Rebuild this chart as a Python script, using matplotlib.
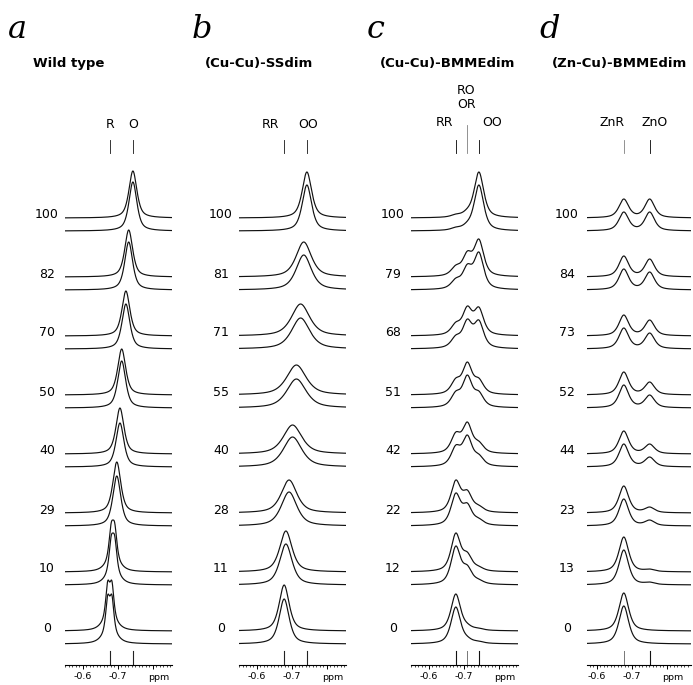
import numpy as np
import matplotlib
matplotlib.use("Agg")
import matplotlib.pyplot as plt
from matplotlib.ticker import MultipleLocator, FixedLocator, FixedFormatter
from matplotlib.transforms import ScaledTranslation

# ---------------- data ----------------
PPM_R, PPM_M, PPM_O = -0.677, -0.710, -0.743

A_TITLE = "Wild type"
A_LABELS = ["100", "82", "70", "50", "40", "29", "10", "0"]
A_CENTER = [-0.743, -0.731, -0.723, -0.711, -0.706, -0.697, -0.686, -0.677]
A_HWHM = [0.0135, 0.0135, 0.0135, 0.0135, 0.0135, 0.0135, 0.0075, 0.0068]
A_SPLIT = [0, 0, 0, 0, 0, 0, 0.0100, 0.0120]
A_BROAD = [0, 0, 0, 0, 0, 0, 0.20, 0.20]
A_H_EXP = [47, 47, 45, 46, 46, 51, 52, 51]
A_H_SIM = [49, 48, 45, 47, 44, 50, 52, 50]

B_TITLE = "(Cu-Cu)-SSdim"
B_LABELS = ["100", "81", "71", "55", "40", "28", "11", "0"]
B_CENTER = [-0.743, -0.734, -0.725, -0.713, -0.702, -0.692, -0.683, -0.678]
B_HWHM = [0.0160, 0.0260, 0.0310, 0.0330, 0.0315, 0.0265, 0.0210, 0.0170]
B_H_EXP = [46, 35, 32, 30, 29, 33, 41, 46]
B_H_SIM = [46, 35, 31, 29, 30, 34, 41, 45]

C_TITLE = "(Cu-Cu)-BMMEdim"
C_LABELS = ["100", "79", "68", "51", "42", "22", "12", "0"]
# observed heights (px) of the trace at the RR, RO/OR and OO positions
C_H_RR = [4, 12, 14, 17, 22, 33, 39, 37]
C_H_RO = [10, 26, 30, 33, 32, 23, 20, 8]
C_H_OO = [46, 38, 29, 17, 13, 8, 6, 3]
C_HWHM = 0.0162

D_TITLE = "(Zn-Cu)-BMMEdim"
D_LABELS = ["100", "84", "73", "52", "44", "23", "13", "0"]
D_H_ZNR = [19, 21, 21, 23, 23, 27, 35, 38]
D_H_ZNO = [19, 18, 16, 13, 10, 6, 3, 1]
D_HWHM = 0.0165
PPM_ZNR, PPM_ZNO = -0.677, -0.751

# ---------------- layout ----------------
W, H = 693, 685
fig = plt.figure(figsize=(W / 100, H / 100), dpi=100)
AX_TOP, AX_BOT = 80, 665          # pixel rows of panel axes
PX_PER_PPM = 350.0
ROW0, ROW_GAP, PAIR_GAP = 218, 59, 13
LINE_KW = dict(color="#111111", lw=0.85)
SANS = "DejaVu Sans"
ETA = 0.65   # Lorentzian share of the line shape


def pv(x, x0, w):
    d = (x - x0) / w
    return ETA / (1.0 + d ** 2) + (1 - ETA) * np.exp(-np.log(2) * d ** 2)


def py(pix):
    return AX_BOT - pix


def make_panel(left, width, xl, letter, letter_x, title, title_x, labels,
               marks, mark_styles, top_labels, label_dx=18):
    ax = fig.add_axes([left / W, (H - AX_BOT) / H, width / W,
                       (AX_BOT - AX_TOP) / H])
    ax.set_xlim(xl, xl - width / PX_PER_PPM)
    ax.set_ylim(0, AX_BOT - AX_TOP)
    for s in ("top", "left", "right"):
        ax.spines[s].set_visible(False)
    ax.spines["bottom"].set_linewidth(0.8)
    ax.set_yticks([])
    ax.xaxis.set_major_locator(FixedLocator([-0.6, -0.7, -0.8]))
    ax.xaxis.set_major_formatter(FixedFormatter(["-0.6", "-0.7", ""]))
    ax.xaxis.set_minor_locator(MultipleLocator(0.01))
    ax.tick_params(axis="x", which="major", length=3.2, width=0.7,
                   labelsize=6.8, pad=1.5)
    ax.tick_params(axis="x", which="minor", length=1.6, width=0.5)
    for lab in ax.get_xticklabels():
        lab.set_fontfamily(SANS)
    ax.text(-0.818, -12, "ppm", fontsize=6.8, family=SANS,
            ha="center", va="center")
    for m, (col, lw, top_pix) in zip(marks, mark_styles):
        ax.plot([m, m], [0, 14], color=col, lw=lw, clip_on=False)
        ax.plot([m, m], [py(153), py(top_pix)], color=col, lw=lw * 0.8,
                clip_on=False)
    for (xp, ypix, txt) in top_labels:
        ax.text(xp, py(ypix), txt, fontsize=9, family=SANS, ha="center",
                va="center")
    off = ScaledTranslation(-label_dx / 100, 0, fig.dpi_scale_trans)
    for i, lab in enumerate(labels):
        ax.text(xl, py(ROW0 + i * ROW_GAP) + 3, lab, fontsize=9, family=SANS,
                ha="center", va="center", transform=ax.transData + off)
    fig.text(title_x / W, 1 - 67 / H, title, fontsize=9.5,
             fontweight="bold", family=SANS, ha="left", va="baseline")
    fig.text(letter_x / W, 1 - 38 / H, letter, fontsize=23,
             family="DejaVu Serif", style="italic", ha="left",
             va="baseline")
    x = np.linspace(xl, xl - width / PX_PER_PPM, 700)
    return ax, x


def draw_pair(ax, x, i, shape_exp, shape_sim):
    base_u = py(ROW0 + i * ROW_GAP)
    base_l = base_u - PAIR_GAP
    ax.plot(x, base_u + shape_exp, **LINE_KW)
    ax.plot(x, base_l + shape_sim, **LINE_KW)


def multi_peak(x, positions, heights, w):
    pos = np.asarray(positions)
    m = pv(pos[:, None], pos[None, :], w)
    amps = np.clip(np.linalg.solve(m, np.asarray(heights, float)), 0, None)
    return sum(a * pv(x, p, w) for a, p in zip(amps, pos))


# ---- panel a ----
ax, x = make_panel(65, 107, -0.549, "a", 8, A_TITLE, 33, A_LABELS,
                   [PPM_R, PPM_O],
                   [("#222222", 0.8, 140), ("#222222", 0.8, 140)],
                   [(PPM_R, 125, "R"), (PPM_O, 125, "O")])
for i in range(len(A_LABELS)):
    c, w, s, b = A_CENTER[i], A_HWHM[i], A_SPLIT[i], A_BROAD[i]
    if s > 0:
        shp = 0.5 * (pv(x, c - s / 2, w) + pv(x, c + s / 2, w))
    else:
        shp = pv(x, c, w)
    shp = shp + b * pv(x, c, 0.022)
    shp = shp / shp.max()
    draw_pair(ax, x, i, A_H_EXP[i] * shp, A_H_SIM[i] * shp)

# ---- panel b ----
ax, x = make_panel(239, 107, -0.549, "b", 192, B_TITLE, 205, B_LABELS,
                   [PPM_R, PPM_O],
                   [("#222222", 0.8, 140), ("#222222", 0.8, 140)],
                   [(-0.640, 125, "RR"), (-0.746, 125, "OO")])
for i in range(len(B_LABELS)):
    shp = pv(x, B_CENTER[i], B_HWHM[i])
    draw_pair(ax, x, i, B_H_EXP[i] * shp, B_H_SIM[i] * shp)

# ---- panel c ----
ax, x = make_panel(411, 107, -0.549, "c", 367, C_TITLE, 380, C_LABELS,
                   [PPM_R, PPM_M, PPM_O],
                   [("#111111", 0.8, 140), ("#777777", 0.7, 125),
                    ("#111111", 0.8, 140)],
                   [(-0.646, 123, "RR"), (-0.707, 90, "RO"),
                    (-0.707, 104.5, "OR"), (-0.780, 123, "OO")])
for i in range(len(C_LABELS)):
    shp = multi_peak(x, [PPM_R, PPM_M, PPM_O],
                     [C_H_RR[i], C_H_RO[i], C_H_OO[i]], C_HWHM)
    draw_pair(ax, x, i, shp, shp)

# ---- panel d ----
ax, x = make_panel(587, 104, -0.549 - 8 / PX_PER_PPM, "d", 539, D_TITLE, 552,
                   D_LABELS, [PPM_ZNR, PPM_ZNO],
                   [("#777777", 0.7, 140), ("#111111", 0.8, 140)],
                   [(-0.643, 123, "ZnR"), (-0.766, 123, "ZnO")],
                   label_dx=20)
for i in range(len(D_LABELS)):
    shp = multi_peak(x, [PPM_ZNR, PPM_ZNO], [D_H_ZNR[i], D_H_ZNO[i]], D_HWHM)
    draw_pair(ax, x, i, shp, shp)

fig.savefig("out.png", dpi=100, facecolor="white")
